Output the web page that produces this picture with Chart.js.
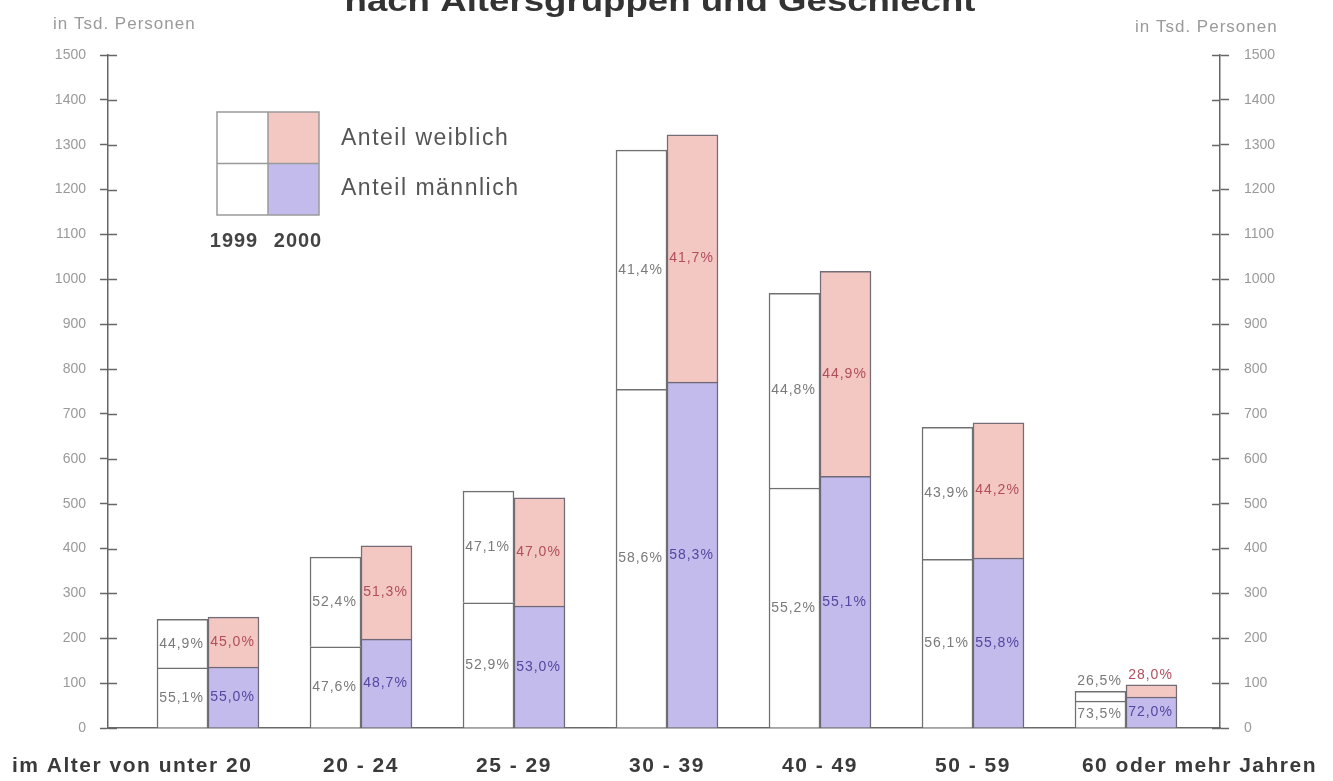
<!DOCTYPE html>
<html><head><meta charset="utf-8">
<script src="https://cdn.jsdelivr.net/npm/chart.js@4.4.1/dist/chart.umd.min.js"></script>
<style>html,body{margin:0;padding:0;background:#fff;overflow:hidden}canvas{display:block}</style>
</head><body>
<canvas id="c" width="1333" height="781"></canvas>
<script>
// ---- data ----
const titleText = "nach Altersgruppen und Geschlecht";
const unitText = "in Tsd. Personen";
const categories = ["im Alter von unter 20", "20 - 24", "25 - 29", "30 - 39", "40 - 49", "50 - 59", "60 oder mehr Jahren"];
const years = ["1999", "2000"];
const legendLabels = ["Anteil weiblich", "Anteil männlich"];
const male1999   = [134, 181, 279, 755, 535, 376, 60];
const female1999 = [108, 200, 249, 533, 434, 294, 22];
const male2000   = [136, 198, 272, 771, 561, 379, 69];
const female2000 = [111, 208, 241, 551, 457, 301, 27];
const pctM1999 = ["55,1%", "47,6%", "52,9%", "58,6%", "55,2%", "56,1%", "73,5%"];
const pctF1999 = ["44,9%", "52,4%", "47,1%", "41,4%", "44,8%", "43,9%", "26,5%"];
const pctM2000 = ["55,0%", "48,7%", "53,0%", "58,3%", "55,1%", "55,8%", "72,0%"];
const pctF2000 = ["45,0%", "51,3%", "47,0%", "41,7%", "44,9%", "44,2%", "28,0%"];
const yMin = 0, yMax = 1500, yStep = 100;

// ---- styles ----
const FONT = 'Arial, "Liberation Sans", sans-serif';
const PINK = '#f3c7c2', LAV = '#c2bbeb';
const toXY = arr => arr.map((v, i) => ({x: i, y: v}));

const innerTicks = {
  id: 'innerTicks',
  afterDraw(chart) {
    const ctx = chart.ctx;
    ctx.save();
    ctx.strokeStyle = '#666'; ctx.lineWidth = 1.5;
    for (const id of ['y', 'y2']) {
      const s = chart.scales[id];
      const left = id === 'y';
      const ax = left ? s.right : s.left;
      s.ticks.forEach(t => {
        const py = Math.round(s.getPixelForValue(t.value)) + 0.5;
        ctx.beginPath();
        ctx.moveTo(ax, py);
        ctx.lineTo(left ? ax + 9 : ax - 8, py);
        ctx.stroke();
      });
    }
    ctx.restore();
  }
};

const texts = {
  id: 'texts',
  afterDraw(chart) {
    const ctx = chart.ctx;
    const xs = chart.scales.x;
    ctx.save();
    // title (partially cut at top as in the scan)
    ctx.font = 'bold 30px ' + FONT;
    ctx.fillStyle = '#333';
    ctx.textBaseline = 'alphabetic';
    ctx.textAlign = 'center';
    const w = ctx.measureText(titleText).width;
    ctx.save();
    ctx.translate(660, 11);
    ctx.scale(631 / w, 1);
    ctx.fillText(titleText, 0, 0);
    ctx.restore();

    // unit labels
    ctx.font = '17px ' + FONT;
    ctx.fillStyle = '#9a9a9a';
    ctx.textBaseline = 'middle';
    try { ctx.letterSpacing = '1px'; } catch (e) {}
    ctx.textAlign = 'left';
    ctx.fillText(unitText, 53, 24);
    ctx.fillText(unitText, 1135, 27);

    // category labels
    ctx.font = 'bold 21px ' + FONT;
    ctx.fillStyle = '#3a3a3a';
    ctx.textBaseline = 'alphabetic';
    try { ctx.letterSpacing = '1.5px'; } catch (e) {}
    categories.forEach((c, i) => {
      if (i === 0) { ctx.textAlign = 'left'; ctx.fillText(c, 12, 772); }
      else if (i === categories.length - 1) { ctx.textAlign = 'right'; ctx.fillText(c, 1317, 772); }
      else { ctx.textAlign = 'center'; ctx.fillText(c, xs.getPixelForValue(i), 772); }
    });

    // legend
    const L = 217, T = 112, cw = 51, ch = 51.5;
    ctx.fillStyle = '#fff';
    ctx.fillRect(L, T, cw, ch * 2);
    ctx.fillStyle = PINK; ctx.fillRect(L + cw, T, cw, ch);
    ctx.fillStyle = LAV; ctx.fillRect(L + cw, T + ch, cw, ch);
    ctx.strokeStyle = '#9a9a9a'; ctx.lineWidth = 1.5;
    ctx.strokeRect(L, T, cw * 2, ch * 2);
    ctx.beginPath();
    ctx.moveTo(L + cw, T); ctx.lineTo(L + cw, T + ch * 2);
    ctx.moveTo(L, T + ch); ctx.lineTo(L + cw * 2, T + ch);
    ctx.stroke();
    ctx.font = '23px ' + FONT;
    ctx.fillStyle = '#555';
    ctx.textAlign = 'left';
    ctx.textBaseline = 'middle';
    ctx.fillText(legendLabels[0], 341, 139);
    ctx.fillText(legendLabels[1], 341, 189);
    ctx.font = 'bold 20px ' + FONT;
    ctx.fillStyle = '#444';
    try { ctx.letterSpacing = '1px'; } catch (e) {}
    ctx.textAlign = 'center';
    ctx.fillText(years[0], 234, 241);
    ctx.fillText(years[1], 298, 241);
    ctx.restore();
  }
};

const pctLabels = {
  id: 'pctLabels',
  afterDatasetsDraw(chart) {
    const ctx = chart.ctx;
    ctx.save();
    ctx.font = '14px ' + FONT;
    try { ctx.letterSpacing = '1px'; } catch (e) {}
    ctx.textAlign = 'center';
    ctx.textBaseline = 'middle';
    chart.data.datasets.forEach((ds, di) => {
      const meta = chart.getDatasetMeta(di);
      meta.data.forEach((bar, i) => {
        const top = Math.min(bar.y, bar.base), bot = Math.max(bar.y, bar.base);
        let y = (top + bot) / 2;
        if (bot - top < 16) y = top - 10;
        ctx.fillStyle = ds.labelColor;
        ctx.fillText(ds.pct[i], bar.x - 1, y);
      });
    });
    ctx.restore();
  }
};

const commonBar = { barThickness: 51, borderWidth: 1.5, borderSkipped: 'start' };
const plainTick = v => String(v);

new Chart(document.getElementById('c'), {
  type: 'bar',
  data: {
    datasets: [
      Object.assign({ label: legendLabels[1] + ' ' + years[0], data: toXY(male1999), stack: years[0], backgroundColor: '#ffffff', borderColor: '#707070', pct: pctM1999, labelColor: '#7a7a7a' }, commonBar),
      Object.assign({ label: legendLabels[0] + ' ' + years[0], data: toXY(female1999), stack: years[0], backgroundColor: '#ffffff', borderColor: '#707070', pct: pctF1999, labelColor: '#7a7a7a' }, commonBar),
      Object.assign({ label: legendLabels[1] + ' ' + years[1], data: toXY(male2000), stack: years[1], backgroundColor: LAV, borderColor: '#6e6878', pct: pctM2000, labelColor: '#5546a0' }, commonBar),
      Object.assign({ label: legendLabels[0] + ' ' + years[1], data: toXY(female2000), stack: years[1], backgroundColor: PINK, borderColor: '#746c76', pct: pctF2000, labelColor: '#b04e5c' }, commonBar)
    ]
  },
  options: {
    responsive: false,
    animation: false,
    devicePixelRatio: 1,
    layout: { padding: { top: 55, left: 0, right: 0, bottom: 0 } },
    plugins: { legend: { display: false }, tooltip: { enabled: false }, title: { display: false } },
    scales: {
      x: {
        type: 'linear',
        offset: false,
        min: -0.6536, max: 6.6144,
        afterBuildTicks: s => { s.ticks = categories.map((_, i) => ({ value: i })); },
        ticks: { display: false },
        grid: { drawOnChartArea: false, drawTicks: false, offset: false },
        border: { display: true, color: '#6a6a6a', width: 1.5 },
        afterFit: s => { s.height = 53; }
      },
      y: {
        position: 'left',
        stacked: true,
        min: yMin, max: yMax,
        ticks: { stepSize: yStep, color: '#9a9a9a', font: { family: FONT, size: 14 }, padding: 14, callback: plainTick },
        grid: { drawOnChartArea: false, tickLength: 8, tickColor: '#666', tickWidth: 1.5 },
        border: { display: true, color: '#666', width: 1.5 },
        afterFit: s => { s.width = 108; }
      },
      y2: {
        position: 'right',
        min: yMin, max: yMax,
        ticks: { stepSize: yStep, color: '#9a9a9a', font: { family: FONT, size: 14 }, padding: 15, callback: plainTick },
        grid: { drawOnChartArea: false, tickLength: 9, tickColor: '#666', tickWidth: 1.5 },
        border: { display: true, color: '#666', width: 1.5 },
        afterFit: s => { s.width = 113; }
      }
    }
  },
  plugins: [innerTicks, pctLabels, texts]
});
</script>
</body></html>
